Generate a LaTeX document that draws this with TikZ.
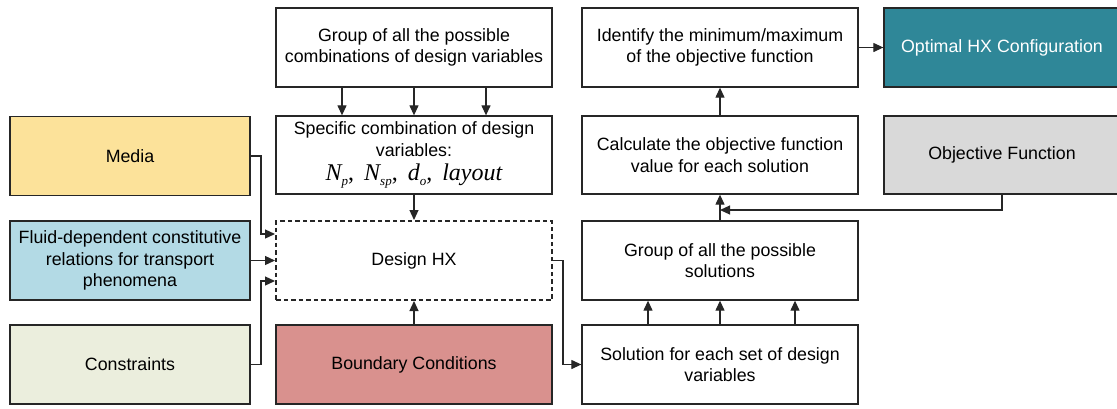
\documentclass[tikz,border=0pt]{standalone}
\usepackage{fontspec}
\setmainfont{Liberation Sans}
\newfontfamily\tnr{Liberation Serif}
\usetikzlibrary{arrows.meta}
\definecolor{mediaY}{HTML}{FCE29A}
\definecolor{fluidB}{HTML}{B3DAE5}
\definecolor{consG}{HTML}{EBEEDD}
\definecolor{bcR}{HTML}{D9918E}
\definecolor{optT}{HTML}{2F8798}
\definecolor{objG}{HTML}{D9D9D9}
\definecolor{edge}{HTML}{262626}
\newcommand{\sbs}[1]{\raisebox{-5pt}{\fontsize{13}{13}\selectfont #1}}
\begin{document}
\begin{tikzpicture}[x=1pt,y=1pt,
  box/.style={draw=edge, line width=1.3pt, minimum width=#1, minimum height=79pt,
    align=center, font=\fontsize{17.8}{21.5}\selectfont, inner sep=1pt, text=black},
  box/.default=276pt,
  conn/.style={draw=edge, line width=1.2pt, -{Triangle[length=10pt,width=9pt]}},
  wire/.style={draw=edge, line width=1.2pt}]
\useasboundingbox (0,0) rectangle (1117,-408);

% left column
\node[box=240pt, fill=mediaY] (media) at (130,-156) {Media};
\node[box=240pt, fill=fluidB] (fluid) at (130,-260.5) {Fluid-dependent constitutive\\relations for transport\\phenomena};
\node[box=240pt, fill=consG] (cons) at (130,-364.5) {Constraints};

% design column
\node[box] (combos) at (414,-47.5) {Group of all the possible\\combinations of design variables};
\node[box, minimum height=78pt] (spec) at (414,-155) {Specific combination of design\\variables:\\[3pt]{\tnr\itshape\fontsize{24}{24}\selectfont N\sbs{p}\upshape,\, \itshape N\sbs{sp}\upshape,\, \itshape d\sbs{o}\upshape,\, \itshape layout}};
\node[box, dashed, dash pattern=on 4.5pt off 3pt, line width=2pt] (hx) at (414,-260.5) {Design HX};
\node[box, fill=bcR] (bc) at (414,-364.5) {Boundary Conditions};

% solution column
\node[box] (ident) at (720,-47.5) {Identify the minimum/maximum\\of the objective function};
\node[box, minimum height=78pt] (calc) at (720,-155) {Calculate the objective function\\value for each solution};
\node[box] (gsol) at (720,-260.5) {Group of all the possible\\solutions};
\node[box] (sol) at (720,-364.5) {Solution for each set of design\\variables};

% result column
\node[box=236pt, fill=optT, text=white] (opt) at (1002,-47.5) {Optimal HX Configuration};
\node[box=236pt, minimum height=78pt, fill=objG] (obj) at (1002,-155) {Objective Function};

% inputs into the design step
\draw[conn] (media.east) -| (261,-234) -- (hx.west |- 0,-234);
\draw[conn] (fluid.east) -- (hx.west);
\draw[conn] (cons.east) -| (261,-281) -- (hx.west |- 0,-281);

% combinations feed the specific combination
\foreach \xx in {342,414,486}
  \draw[conn] (combos.south -| \xx,0) -- (spec.north -| \xx,0);
\draw[conn] (spec.south) -- (hx.north);
\draw[conn] (bc.north) -- (hx.south);

% design to solutions
\draw[conn] (hx.east) -| (563,-364.5) -- (sol.west);
\foreach \xx in {648,720,795}
  \draw[conn] (sol.north -| \xx,0) -- (gsol.south -| \xx,0);
\draw[conn] (gsol.north) -- (calc.south);
\draw[conn] (obj.south) |- (calc.south |- 0,-210);
\draw[conn] (calc.north) -- (ident.south);
\draw[conn] (ident.east) -- (opt.west);
\end{tikzpicture}
\end{document}
